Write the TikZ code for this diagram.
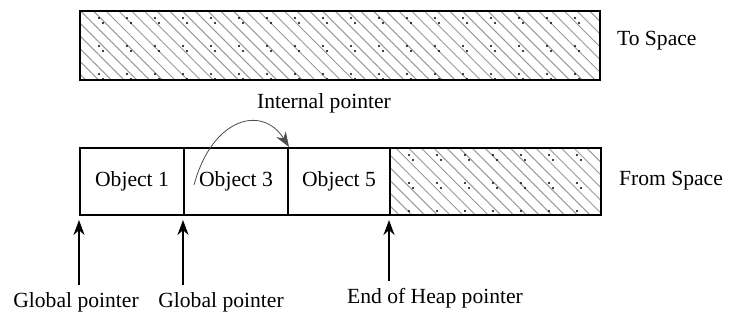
\documentclass[tikz,border=0pt]{standalone}
\usepackage{fontspec}
\setmainfont{Liberation Serif}
\usepackage{tikz}
\usetikzlibrary{positioning,arrows.meta,patterns.meta}

\begin{document}
\begin{tikzpicture}[
  x=0.5pt, y=-0.5pt,
  font=\fontsize{10.8}{13}\selectfont, >={Stealth[length=7.5pt,width=5.5pt]},
  space/.style={draw, line width=1pt, inner sep=0pt, minimum height=34.5pt},
  cell/.style={space, minimum height=33.5pt},
  hatched/.style={pattern={Lines[angle=-45,distance=4.5pt,line width=0.5pt]},
    pattern color=black!40,
    path picture={
      \foreach \cx in {0,28,...,560}
        \foreach \cy in {0,28,...,84} {
          \path[fill=black] (path picture bounding box.north west) ++(\cx+19,\cy+7) circle (0.6pt);
          \path[fill=black] (path picture bounding box.north west) ++(\cx+23,\cy+12) circle (0.6pt);
        }}},
  ptr/.style={->, line width=1pt}
]
\useasboundingbox (0,0) rectangle (731,325);

% to space
\node[space, hatched, minimum width=260pt] (to) at (340,45.5) {};
\node[anchor=west] (tolbl) at (610,41) {To Space};

% from space
\node[cell, minimum width=52pt] (obj1) at (132,181.5) {Object 1};
\node[cell, minimum width=52pt, right=-1pt of obj1] (obj3) {Object 3};
\node[cell, minimum width=51pt, right=-1pt of obj3] (obj5) {Object 5};
\node[cell, hatched, minimum width=105.5pt, right=-1pt of obj5] (free) {};
\node[anchor=west] (fromlbl) at (612,181) {From Space};

% internal pointer
\node (intlbl) at (324,103) {Internal pointer};
\coordinate (ip) at (194,185);
\draw[->, black!70, line width=0.4pt] (ip) .. controls (212,118) and (262,104) .. (obj3.north east);

% pointers into the heap
\node (gp1) at (76,302) {Global pointer};
\node (gp2) at (221,302) {Global pointer};
\node (eoh) at (435,298) {End of Heap pointer};
\draw[ptr] (gp1.north -| obj1.south west) -- ([yshift=-2pt]obj1.south west);
\draw[ptr] (gp2.north -| obj3.south west) -- ([yshift=-2pt]obj3.south west);
\draw[ptr] (eoh.north -| free.south west) -- ([yshift=-2pt]free.south west);
\end{tikzpicture}
\end{document}
